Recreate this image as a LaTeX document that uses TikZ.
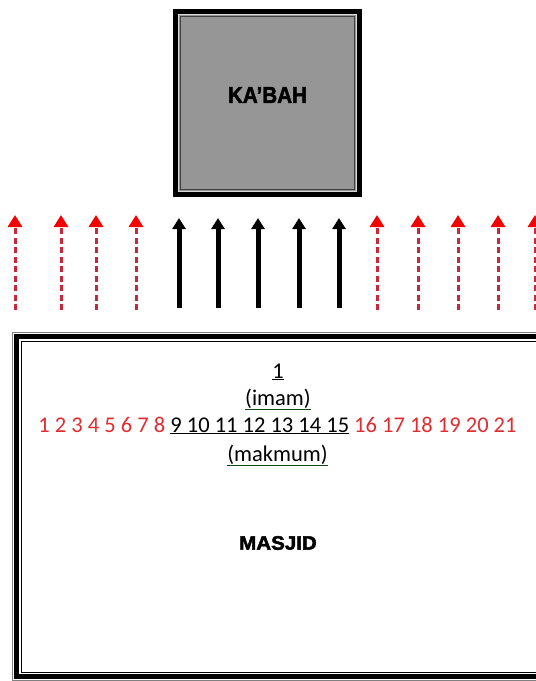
\documentclass[tikz,border=0pt]{standalone}
\usepackage{fontspec}
\setmainfont{Carlito}
\newfontfamily\headfont{Liberation Sans}[BoldFeatures={FakeBold=2.2}]
\usetikzlibrary{arrows.meta}
\definecolor{kgray}{RGB}{150,150,150}
\definecolor{numred}{RGB}{225,45,50}
\definecolor{arrred}{RGB}{245,0,0}
\definecolor{dashred}{RGB}{200,40,60}
\definecolor{ulgreen}{RGB}{20,70,20}
\begin{document}
\begin{tikzpicture}[x=1pt,y=-1pt,
  blackarrow/.style={line width=5pt, -{Triangle[width=13pt,length=11pt]}},
  redarrow/.style={draw=dashred, line width=3pt, dash pattern=on 6pt off 3.5pt,
     -{Triangle[width=14pt,length=12pt,color=arrred]}},
  txt/.style={font=\fontsize{22.5}{27}\selectfont, anchor=base, inner sep=0pt},
  title/.style={inner sep=0pt}]
\clip (0,0) rectangle (536,681);
\fill[white] (0,0) rectangle (536,681);
% Ka'bah
\fill[kgray] (173,9) rectangle (362,197);
\draw[line width=5pt] (175.5,11.5) rectangle (359.5,194.5);
\draw[line width=0.7pt, gray!30] (178.8,14.8) rectangle (356.2,191.2);
\draw[line width=1pt, black!75] (180.5,16.5) rectangle (354.5,189.5);
\node[title, font=\headfont\bfseries\fontsize{20}{24}\selectfont] (kaabah) at (267.5,95) {\scalebox{1.03}[1.15]{KA’BAH}};
% arrows
\foreach \x [count=\i] in {15,61,96,136,377,418,458,498,535} {
  \coordinate (rt\i) at (\x,310);
  \coordinate (rh\i) at (\x,215);
  \draw[redarrow] (rt\i) -- (rh\i);
}
\foreach \x [count=\i] in {179,218,258,299,339} {
  \coordinate (bt\i) at (\x,308);
  \coordinate (bh\i) at (\x,218);
  \draw[blackarrow] (bt\i) -- (bh\i);
}
% Masjid frame
\draw[line width=0.8pt, gray] (12.5,332.5) rectangle (560,680.5);
\draw[line width=5pt] (16.5,336.5) rectangle (560,676);
\draw[line width=1pt] (21,341) rectangle (560,672.5);
% texts
\node[txt] (imamno) at (278,378) {\underline{1}};
\node[txt] (imam) at (278,405) {\textcolor{ulgreen}{\underline{\textcolor{black}{(imam)}}}};
\node[txt] (row) at (277.5,432) {\textcolor{numred}{1 2 3 4 5 6 7 8} \underline{9 10 11 12 13 14 15} \textcolor{numred}{16 17 18 19 20 21}};
\node[txt] (makmum) at (277.5,461) {\textcolor{ulgreen}{\underline{\textcolor{black}{(makmum)}}}};
\node[title, font=\headfont\bfseries\fontsize{18}{22}\selectfont] (masjid) at (278,543) {\scalebox{1.14}[1.08]{MASJID}};
\end{tikzpicture}
\end{document}
